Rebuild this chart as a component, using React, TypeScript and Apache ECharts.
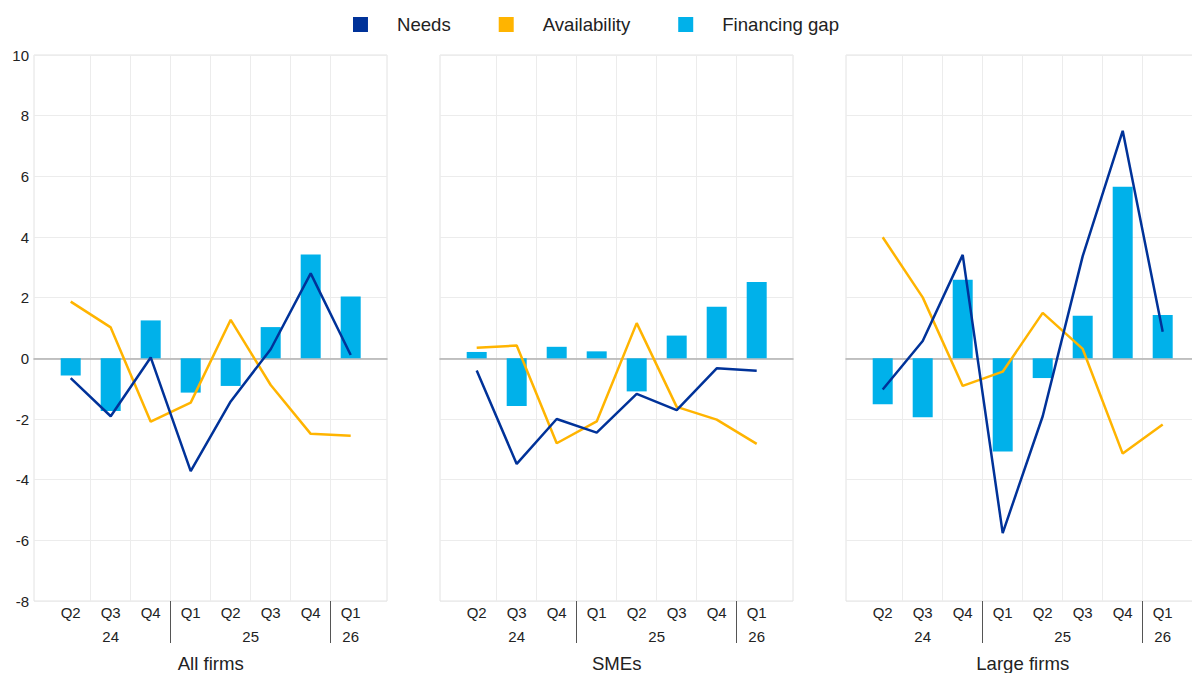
import React, { useEffect, useRef } from "react";
import * as echarts from "echarts";

const quarters = ["Q2", "Q3", "Q4", "Q1", "Q2", "Q3", "Q4", "Q1"];
const years = ["24", "24", "24", "25", "25", "25", "25", "26"];
const panelTitles = ["All firms", "SMEs", "Large firms"];
const yTicks = { min: -8, max: 10, interval: 2 };

const needsAll = [-0.65, -1.91, 0.03, -3.72, -1.42, 0.3, 2.8, 0.11];
const availAll = [1.87, 1.02, -2.09, -1.46, 1.27, -0.88, -2.49, -2.55];
const gapAll = [-0.57, -1.74, 1.25, -1.13, -0.91, 1.03, 3.42, 2.04];

const needsSme = [-0.4, -3.48, -2.0, -2.45, -1.17, -1.71, -0.33, -0.41];
const availSme = [0.35, 0.42, -2.8, -2.08, 1.16, -1.6, -2.02, -2.82];
const gapSme = [0.21, -1.57, 0.38, 0.23, -1.09, 0.75, 1.7, 2.52];

const needsLarge = [-1.03, 0.57, 3.41, -5.76, -1.91, 3.37, 7.5, 0.88];
const availLarge = [3.99, 2.01, -0.91, -0.44, 1.5, 0.31, -3.14, -2.18];
const gapLarge = [-1.51, -1.94, 2.59, -3.07, -0.65, 1.4, 5.66, 1.43];

const needsData = [needsAll, needsSme, needsLarge];
const availData = [availAll, availSme, availLarge];
const gapData = [gapAll, gapSme, gapLarge];

const C_NEEDS = "#003299";
const C_AVAIL = "#FFB400";
const C_GAP = "#00B1EA";
const FONT = "'Liberation Sans', Arial, sans-serif";
const TXT = "#222";

function yearLabel(i: number): string {
  let s = i;
  while (s > 0 && years[s - 1] === years[i]) s--;
  let e = i;
  while (e < years.length - 1 && years[e + 1] === years[i]) e++;
  const mid = (s + e) / 2;
  if (i !== Math.floor(mid)) return "";
  return mid !== Math.floor(mid) ? "{sh|" + years[i] + "}" : years[i];
}

export default function App() {
  const ref = useRef<HTMLDivElement>(null);
  useEffect(() => {
    if (!ref.current) return;
    const chart = echarts.init(ref.current, null, { renderer: "svg" });
    const grids: any[] = [];
    const xAxis: any[] = [];
    const yAxis: any[] = [];
    const series: any[] = [];
    const top = 55;
    const height = 546;
    const hiddenY = (g: number) => ({
      type: "value",
      gridIndex: g,
      min: yTicks.min,
      max: yTicks.max,
      interval: yTicks.interval,
      show: false,
    });
    const baseGrid = { top, height, outerBoundsMode: "none", containLabel: false };
    for (let p = 0; p < 3; p++) {
      const ox = 34 + 406 * p;
      const g0 = grids.length;
      // A: frame
      grids.push({ ...baseGrid, left: ox, width: 353, show: true, borderColor: "#e2e2e2", borderWidth: 1, backgroundColor: "transparent" });
      // B: data
      grids.push({ ...baseGrid, left: ox + 16.7, width: 320 });
      // C: vertical split lines
      grids.push({ ...baseGrid, left: ox + 56.7, width: 240 });
      // D: year separators
      grids.push({ ...baseGrid, left: ox + 136.7, width: 160 });

      const xa = xAxis.length;
      xAxis.push({
        type: "value",
        gridIndex: g0,
        min: 0,
        max: 1,
        axisLine: { show: true, onZero: true, lineStyle: { color: "#b0b0b0", width: 1.5 } },
        axisTick: { show: false },
        axisLabel: { show: false },
        splitLine: { show: false },
      });
      xAxis.push({
        type: "category",
        gridIndex: g0 + 1,
        data: quarters,
        boundaryGap: true,
        axisLine: { show: false, onZero: false },
        axisTick: { show: false },
        splitLine: { show: false },
        axisLabel: { interval: 0, margin: 4, fontSize: 15, color: TXT, fontFamily: FONT },
      });
      xAxis.push({
        type: "category",
        gridIndex: g0 + 1,
        position: "bottom",
        offset: 24,
        data: years,
        boundaryGap: true,
        axisLine: { show: false, onZero: false },
        axisTick: { show: false },
        splitLine: { show: false },
        axisLabel: {
          interval: 0,
          margin: 4,
          fontSize: 15,
          color: TXT,
          fontFamily: FONT,
          formatter: (_v: string, i: number) => yearLabel(i),
          rich: { sh: { fontSize: 15, color: TXT, fontFamily: FONT, padding: [0, 0, 0, 40] } },
        },
        name: panelTitles[p],
        nameLocation: "middle",
        nameGap: 29,
        nameTextStyle: { fontSize: 18.6, color: TXT, fontFamily: FONT },
      });
      xAxis.push({
        type: "category",
        gridIndex: g0 + 2,
        data: ["", "", "", "", "", ""],
        boundaryGap: true,
        axisLine: { show: false, onZero: false },
        axisTick: { show: false },
        axisLabel: { show: false },
        splitLine: { show: true, interval: 0, lineStyle: { color: "#ececec", width: 1 } },
      });
      xAxis.push({
        type: "category",
        gridIndex: g0 + 3,
        data: [""],
        boundaryGap: true,
        axisLine: { show: false, onZero: false },
        axisTick: { show: true, interval: 0, length: 42, lineStyle: { color: "#555", width: 1 } },
        axisLabel: { show: false },
        splitLine: { show: false },
      });

      const ya = yAxis.length;
      yAxis.push({
        type: "value",
        gridIndex: g0,
        min: yTicks.min,
        max: yTicks.max,
        interval: yTicks.interval,
        axisLine: { show: false },
        axisTick: { show: false },
        axisLabel: { show: p === 0, margin: 5, fontSize: 15, color: TXT, fontFamily: FONT },
        splitLine: { show: true, lineStyle: { color: "#ececec", width: 1 } },
      });
      yAxis.push(hiddenY(g0 + 1));
      yAxis.push(hiddenY(g0 + 2));
      yAxis.push(hiddenY(g0 + 3));

      series.push({
        name: "Financing gap",
        type: "bar",
        xAxisIndex: xa + 1,
        yAxisIndex: ya + 1,
        data: gapData[p],
        barWidth: 20,
        itemStyle: { color: C_GAP },
        z: 2,
      });
      series.push({
        name: "Availability",
        type: "line",
        xAxisIndex: xa + 1,
        yAxisIndex: ya + 1,
        data: availData[p],
        symbol: "none",
        lineStyle: { color: C_AVAIL, width: 2.5 },
        itemStyle: { color: C_AVAIL },
        z: 3,
      });
      series.push({
        name: "Needs",
        type: "line",
        xAxisIndex: xa + 1,
        yAxisIndex: ya + 1,
        data: needsData[p],
        symbol: "none",
        lineStyle: { color: C_NEEDS, width: 2.5 },
        itemStyle: { color: C_NEEDS },
        z: 4,
      });
    }

    chart.setOption({
      animation: false,
      backgroundColor: "#fff",
      textStyle: { fontFamily: FONT },
      legend: {
        data: ["Needs", "Availability", "Financing gap"],
        left: "center",
        top: 10,
        icon: "rect",
        itemWidth: 15,
        itemHeight: 15,
        itemGap: 48,
        textStyle: { fontSize: 18.6, color: TXT, fontFamily: FONT, padding: [0, 0, 0, 24] },
      },
      grid: grids,
      xAxis,
      yAxis,
      series,
    });
    return () => chart.dispose();
  }, []);
  return (
    <div
      ref={ref}
      style={{ position: "fixed", left: 0, top: 0, width: 1192, height: 673 }}
    />
  );
}
